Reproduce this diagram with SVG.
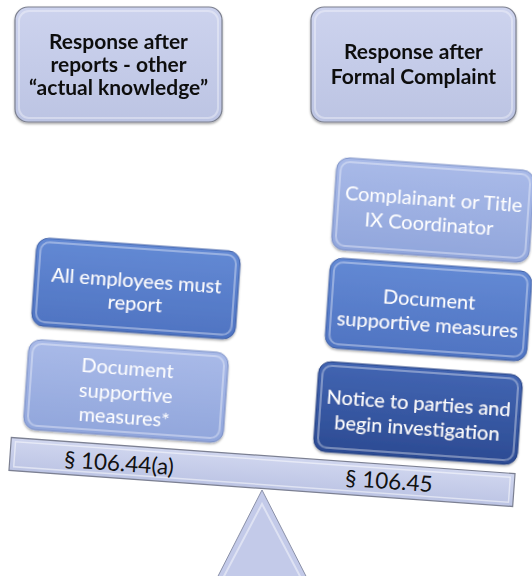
<svg xmlns="http://www.w3.org/2000/svg" width="532" height="576" viewBox="0 0 532 576">
  <defs>
    <linearGradient id="gHead" x1="0" y1="0" x2="0" y2="1">
      <stop offset="0" stop-color="#cdd3ee"/>
      <stop offset="1" stop-color="#bcc4e3"/>
    </linearGradient>
    <linearGradient id="gMid" x1="0" y1="0" x2="0" y2="1">
      <stop offset="0" stop-color="#6389d4"/>
      <stop offset="1" stop-color="#4f74c2"/>
    </linearGradient>
    <linearGradient id="gLight" x1="0" y1="0" x2="0" y2="1">
      <stop offset="0" stop-color="#a9bae8"/>
      <stop offset="1" stop-color="#91a6dc"/>
    </linearGradient>
    <linearGradient id="gDark" x1="0" y1="0" x2="0" y2="1">
      <stop offset="0" stop-color="#4265b2"/>
      <stop offset="1" stop-color="#2c4b93"/>
    </linearGradient>
    <linearGradient id="gBeam" x1="0" y1="0" x2="0" y2="1">
      <stop offset="0" stop-color="#d0d6ef"/>
      <stop offset="1" stop-color="#bcc4e4"/>
    </linearGradient>
    <filter id="shadow" x="-10%" y="-10%" width="120%" height="130%">
      <feDropShadow dx="0" dy="1.5" stdDeviation="1.2" flood-color="#000" flood-opacity="0.35"/>
    </filter>
  </defs>
  <style>
    .box { filter: url(#shadow); }
    .head { fill: url(#gHead); stroke: #7c8090; stroke-width: 1.2; }
    .mid { fill: url(#gMid); stroke: #3d5ea6; stroke-width: 1; }
    .light { fill: url(#gLight); stroke: #7a8fc6; stroke-width: 1; }
    .dark { fill: url(#gDark); stroke: #243f80; stroke-width: 1; }
    .bevel { fill: none; stroke: #ffffff; stroke-opacity: 0.35; stroke-width: 2; }
    .headText { font-family: Lato, "Liberation Sans", sans-serif; font-weight: bold; font-size: 21px; fill: #111111; text-anchor: middle; }
    .wText { font-family: Lato, "Liberation Sans", sans-serif; font-size: 20px; fill: #ffffff; text-anchor: middle; }
    .secText { font-family: Lato, "Liberation Sans", sans-serif; font-size: 22.5px; fill: #111111; text-anchor: middle; }
  </style>

  <!-- column headings -->
  <g id="head-left" class="box">
    <rect class="head" x="15" y="7" width="207" height="115" rx="13"/>
    <rect class="bevel" x="19" y="11" width="199" height="107" rx="10"/>
    <text class="headText" x="118.5" y="49">Response after</text>
    <text class="headText" x="118.5" y="72">reports - other</text>
    <text class="headText" x="118.5" y="95">“actual knowledge”</text>
  </g>
  <g id="head-right" class="box">
    <rect class="head" x="311" y="7" width="205" height="115" rx="13"/>
    <rect class="bevel" x="315" y="11" width="197" height="107" rx="10"/>
    <text class="headText" x="413.5" y="59">Response after</text>
    <text class="headText" x="413.5" y="84">Formal Complaint</text>
  </g>

  <!-- fulcrum -->
  <g id="fulcrum">
    <polygon points="262,490 214,584 310,584" fill="#c3cae9" stroke="#8b91a8" stroke-width="1"/>
    <polygon points="262,504 222,580 302,580" fill="none" stroke="#ffffff" stroke-opacity="0.45" stroke-width="2"/>
  </g>

  <!-- beam -->
  <g id="beam" transform="translate(262,472) rotate(4.1)">
    <rect x="-252.5" y="-16.5" width="505" height="33" fill="url(#gBeam)" stroke="#7c8092" stroke-width="1.2"/>
    <rect x="-248" y="-12.5" width="496" height="25" fill="none" stroke="#ffffff" stroke-opacity="0.5" stroke-width="1.5"/>
  </g>
  <g id="label-left" transform="translate(119,463) rotate(4.1)">
    <text class="secText" x="0" y="8">§ 106.44(a)</text>
  </g>
  <g id="label-right" transform="translate(389,481) rotate(4.1)">
    <text class="secText" x="0" y="8">§ 106.45</text>
  </g>

  <!-- left pan -->
  <g id="left-report" class="box" transform="translate(136,288.5) rotate(4)">
    <rect class="mid" x="-102" y="-44" width="204" height="88" rx="12"/>
    <rect class="bevel" x="-98" y="-40" width="196" height="80" rx="9"/>
    <text class="wText" x="0" y="-1">All employees must</text>
    <text class="wText" x="0" y="22">report</text>
  </g>
  <g id="left-document" class="box" transform="translate(126,391) rotate(4)">
    <rect class="light" x="-100" y="-45" width="200" height="90" rx="12"/>
    <rect class="bevel" x="-96" y="-41" width="192" height="82" rx="9"/>
    <text class="wText" x="0" y="-16">Document</text>
    <text class="wText" x="0" y="9">supportive</text>
    <text class="wText" x="0" y="33">measures*</text>
  </g>

  <!-- right pan -->
  <g id="right-complainant" class="box" transform="translate(433,210) rotate(4)">
    <rect class="light" x="-99" y="-46" width="198" height="92" rx="12"/>
    <rect class="bevel" x="-95" y="-42" width="190" height="84" rx="9"/>
    <text class="wText" x="0" y="-4">Complainant or Title</text>
    <text class="wText" x="-3" y="21">IX Coordinator</text>
  </g>
  <g id="right-document" class="box" transform="translate(428.5,309.5) rotate(4)">
    <rect class="mid" x="-101" y="-45" width="202" height="90" rx="12"/>
    <rect class="bevel" x="-97" y="-41" width="194" height="82" rx="9"/>
    <text class="wText" x="0" y="-3">Document</text>
    <text class="wText" x="0" y="22">supportive measures</text>
  </g>
  <g id="right-notice" class="box" transform="translate(418,413) rotate(4)">
    <rect class="dark" x="-102" y="-45" width="204" height="90" rx="12"/>
    <rect class="bevel" x="-98" y="-41" width="196" height="82" rx="9"/>
    <text class="wText" x="0" y="-3">Notice to parties and</text>
    <text class="wText" x="0" y="22">begin investigation</text>
  </g>
</svg>
